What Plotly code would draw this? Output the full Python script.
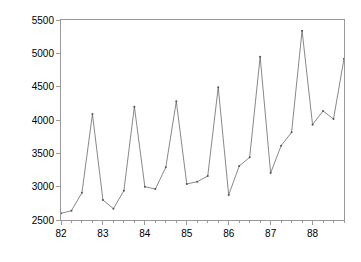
import plotly.graph_objects as go

quarters = [82 + i * 0.25 for i in range(28)]
values = [2600, 2640, 2910, 4090, 2800, 2670, 2940, 4200,
          3000, 2965, 3290, 4280, 3040, 3075, 3160, 4490,
          2875, 3310, 3440, 4950, 3205, 3615, 3815, 5340,
          3930, 4135, 4015, 4920]
year_ticks = [82, 83, 84, 85, 86, 87, 88]
year_labels = ["82", "83", "84", "85", "86", "87", "88"]
y_ticks = [2500, 3000, 3500, 4000, 4500, 5000, 5500]

fig = go.Figure()
fig.add_trace(go.Scatter(
    x=quarters, y=values, mode="lines+markers",
    line=dict(color="#555555", width=0.7),
    marker=dict(color="#555555", size=2),
    showlegend=False, hoverinfo="skip"))

fig.update_layout(
    width=361, height=262,
    margin=dict(l=61, r=17, t=20, b=42),
    paper_bgcolor="white", plot_bgcolor="white",
    font=dict(family="Liberation Sans, Arial, sans-serif", size=10, color="#000000"),
)
fig.update_xaxes(
    range=[82, 88.75], tickvals=year_ticks, ticktext=year_labels,
    ticks="outside", ticklen=4, tickcolor="#999999", tickwidth=1,
    minor=dict(dtick=0.25, tick0=82, ticks="outside", ticklen=2, tickcolor="#999999"),
    showgrid=False, zeroline=False, showline=True, linecolor="#999999", linewidth=1,
    mirror=True,
)
fig.update_yaxes(
    range=[2500, 5500], tickvals=y_ticks,
    ticks="outside", ticklen=4, tickcolor="#999999", tickwidth=1,
    showgrid=False, zeroline=False, showline=True, linecolor="#999999", linewidth=1,
    mirror=True,
)
fig.write_html("out.html")
